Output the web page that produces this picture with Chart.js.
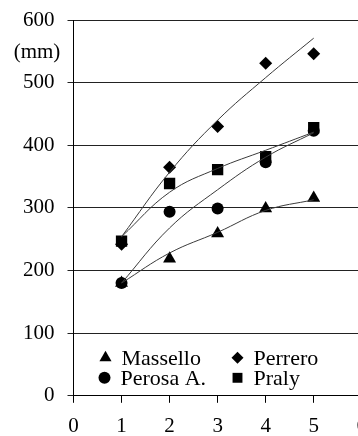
<!DOCTYPE html>
<html>
<head>
<meta charset="utf-8">
<script src="https://cdn.jsdelivr.net/npm/chart.js@4.4.0/dist/chart.umd.min.js"></script>
<style>
  html, body { margin: 0; padding: 0; background: #fff; overflow: hidden; }
  #wrap { width: 378px; height: 436px; }
</style>
</head>
<body>
<div id="wrap"><canvas id="grafico"></canvas></div>
<script>
// giorni / stazioni
const xs = [1, 2, 3, 4, 5];
const massello = [180, 219, 259, 299, 316];
const perrero = [242, 365, 430, 531, 546];
const perosa = [180, 294, 299, 373, 423];
const praly = [247, 339, 361, 382, 428];

// curve di tendenza
const trendMassello = [180, 228, 261, 296, 313];
const trendPerrero = [254, 357, 440, 508, 571];
const trendPerosa = [180, 268, 329, 381, 420];
const trendPraly = [254, 325, 363, 392, 421];

const yTicks = [0, 100, 200, 300, 400, 500, 600];
const xTicks = [0, 1, 2, 3, 4, 5, 6];

const serie = [
  { nome: 'Massello', dati: massello, trend: trendMassello, stile: 'triangle', r: 7.5 },
  { nome: 'Perrero', dati: perrero, trend: trendPerrero, stile: 'rectRot', r: 6.5 },
  { nome: 'Perosa A.', dati: perosa, trend: trendPerosa, stile: 'circle', r: 6 },
  { nome: 'Praly', dati: praly, trend: trendPraly, stile: 'rect', r: 8 }
];

const pts = arr => xs.map((x, i) => ({ x: x, y: arr[i] }));

const datasets = [];
serie.forEach(s => {
  datasets.push({
    label: s.nome + ' trend',
    data: pts(s.trend),
    showLine: true,
    borderColor: '#3a3a3a',
    borderWidth: 1,
    pointRadius: 0,
    tension: 0.4,
    fill: false
  });
});
serie.forEach(s => {
  datasets.push({
    label: s.nome,
    data: pts(s.dati),
    showLine: false,
    pointStyle: s.stile,
    pointRadius: s.r,
    pointBackgroundColor: '#000',
    pointBorderColor: '#000',
    pointBorderWidth: 0
  });
});

const font = { family: '"Liberation Serif", "Times New Roman", serif', size: 21 };

// legenda dentro l'area del grafico + etichetta (mm)
const extra = {
  id: 'extra',
  afterDatasetsDraw(chart) {
    const ctx = chart.ctx;
    const a = chart.chartArea;
    ctx.save();
    ctx.fillStyle = '#000';
    ctx.strokeStyle = '#000';
    ctx.font = '22px ' + font.family;
    ctx.textBaseline = 'middle';
    ctx.textAlign = 'left';
    const voci = [
      { s: serie[0], x: a.left + 32, y: a.bottom - 38, r: 7 },
      { s: serie[1], x: a.left + 164, y: a.bottom - 38, r: 6 },
      { s: serie[2], x: a.left + 31, y: a.bottom - 18, r: 6 },
      { s: serie[3], x: a.left + 164, y: a.bottom - 18, r: 7 }
    ];
    voci.forEach(v => {
      Chart.helpers.drawPoint(ctx, { pointStyle: v.s.stile, radius: v.r, rotation: 0, borderWidth: 0 }, v.x, v.y);
      ctx.fillText(v.s.nome, v.x + 16, v.y + 1);
    });
    ctx.font = '21px ' + font.family;
    ctx.textAlign = 'center';
    ctx.fillText('(mm)', 37, chart.scales.y.getPixelForValue(548));
    ctx.restore();
  }
};

document.addEventListener('DOMContentLoaded', () => {
  const canvas = document.getElementById('grafico');
  new Chart(canvas.getContext('2d'), {
    type: 'scatter',
    data: { datasets: datasets },
    options: {
      responsive: true,
      maintainAspectRatio: false,
      animation: false,
      layout: { padding: { left: 10, right: 10, top: 20, bottom: -14 } },
      plugins: { legend: { display: false }, tooltip: { enabled: false } },
      scales: {
        x: {
          type: 'linear',
          min: 0, max: 6,
          afterBuildTicks: scale => { scale.ticks = xTicks.map(v => ({ value: v })); },
          grid: { drawOnChartArea: false, drawTicks: true, tickLength: 7, color: '#000' },
          border: { display: true, color: '#000', width: 1 },
          ticks: { color: '#000', font: font, padding: 11, maxRotation: 0 }
        },
        y: {
          min: 0, max: 600,
          afterBuildTicks: scale => { scale.ticks = yTicks.map(v => ({ value: v })); },
          afterFit: scale => { scale.paddingTop = 0; },
          grid: { color: '#222', lineWidth: 1, tickLength: 6 },
          border: { display: true, color: '#000', width: 1 },
          ticks: { color: '#000', font: font, padding: 13 }
        }
      }
    },
    plugins: [extra]
  });
});
</script>
</body>
</html>
